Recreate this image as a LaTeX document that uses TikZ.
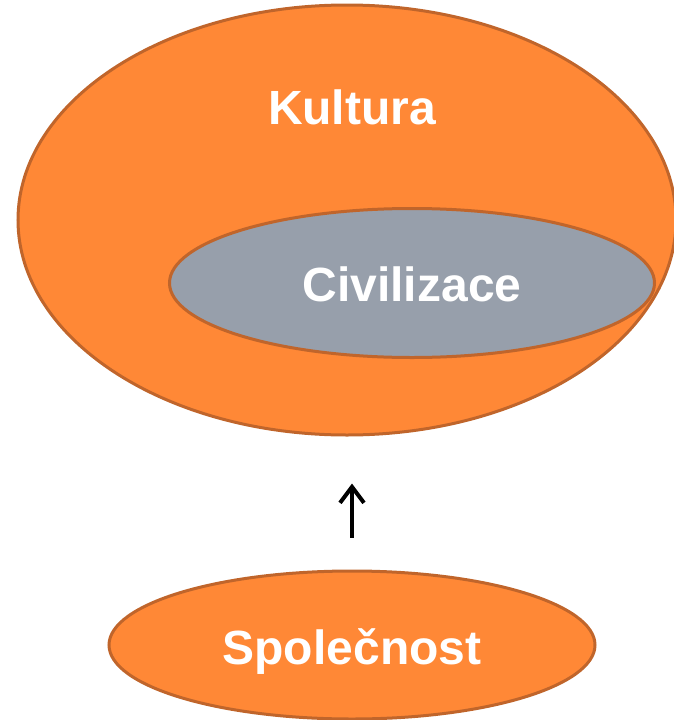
\documentclass[tikz,border=0pt]{standalone}
\usepackage{fontspec}
\setmainfont{Liberation Sans}
\usepackage{tikz}
\usetikzlibrary{shapes.geometric,arrows.meta}
\definecolor{orangefill}{HTML}{FF8836}
\definecolor{orangeline}{HTML}{C0652B}
\definecolor{grayfill}{HTML}{979FAB}
\tikzset{
  blob/.style={ellipse, draw=orangeline, line width=3pt, inner sep=0pt},
  bigtext/.style={text=white, font=\fontsize{48}{56}\selectfont\bfseries}
}
\begin{document}
\begin{tikzpicture}[x=1pt, y=-1pt]
    \useasboundingbox (0,0) rectangle (674,720);
	\node[blob, fill=orangefill, minimum width=658pt, minimum height=430pt](kultura) at (347,220){};
    \node[bigtext, anchor=base](kulturatext) at (352,124){Kultura};
    \node[blob, fill=grayfill, minimum width=485pt, minimum height=149pt](civilizace) at (412,283){};
    \node[bigtext, anchor=base](civilizacetext) at (412,301){Civilizace};
    \node[blob, fill=orangefill, minimum width=486pt, minimum height=148pt](spolecnost) at (352,645){};
    \node[bigtext, anchor=base](spolecnosttext) at (352,664){Společnost};
    \path[draw, line width=4pt, -{Straight Barb[length=16pt, width=24pt, line width=4pt]}, shorten <=32pt, shorten >=47pt](spolecnost.north)--(spolecnost.north |- kultura.south);
	\end{tikzpicture}
\end{document}
